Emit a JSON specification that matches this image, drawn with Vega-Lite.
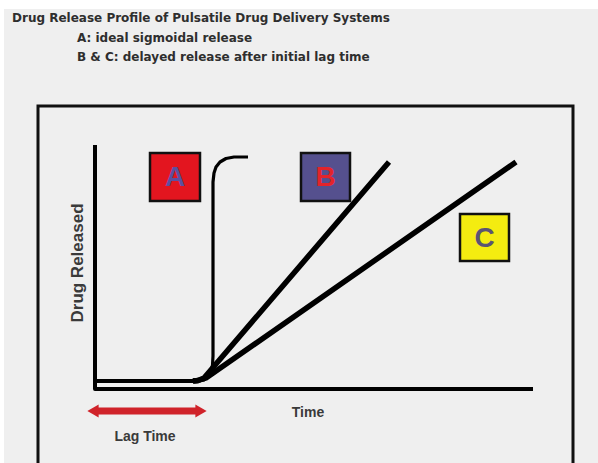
{
  "$schema": "https://vega.github.io/schema/vega-lite/v6.json",
  "width": 598,
  "height": 463,
  "autosize": {"type": "fit", "contains": "padding"},
  "padding": 0,
  "background": "#ffffff",
  "config": {"view": {"stroke": null, "fill": null}},
  "datasets": {
    "bg": [{"x": -91, "x2": 503, "y": 380, "y2": -74}],
    "frame": [
      {"i": 0, "t": -57, "r": -80},
      {"i": 1, "t": -57, "r": 283},
      {"i": 2, "t": 478, "r": 283},
      {"i": 3, "t": 478, "r": -80}
    ],
    "axes": [
      {"i": 0, "t": 0, "r": 244},
      {"i": 1, "t": 0, "r": 0},
      {"i": 2, "t": 438, "r": 0}
    ],
    "base": [
      {"i": 0, "t": 0, "r": 8},
      {"i": 1, "t": 104, "r": 8}
    ],
    "curveA": [
      {"i": 0, "t": 0, "r": 8},
      {"i": 1, "t": 103, "r": 8},
      {"i": 2, "t": 109, "r": 9},
      {"i": 3, "t": 113, "r": 12},
      {"i": 4, "t": 116, "r": 17},
      {"i": 5, "t": 117.5, "r": 24},
      {"i": 6, "t": 118, "r": 33},
      {"i": 7, "t": 118, "r": 207},
      {"i": 8, "t": 119, "r": 216},
      {"i": 9, "t": 121, "r": 222},
      {"i": 10, "t": 125, "r": 227},
      {"i": 11, "t": 131, "r": 230.5},
      {"i": 12, "t": 139, "r": 232},
      {"i": 13, "t": 153, "r": 232}
    ],
    "linear": [
      {"s": "B", "i": 0, "t": 98, "r": 8},
      {"s": "B", "i": 1, "t": 103, "r": 8.5},
      {"s": "B", "i": 2, "t": 109, "r": 11},
      {"s": "B", "i": 3, "t": 294, "r": 227},
      {"s": "C", "i": 0, "t": 98, "r": 8},
      {"s": "C", "i": 1, "t": 103, "r": 8.5},
      {"s": "C", "i": 2, "t": 111, "r": 11},
      {"s": "C", "i": 3, "t": 421, "r": 227}
    ],
    "boxes": [
      {"label": "A", "x": 55, "x2": 105, "y": 188, "y2": 236, "cx": 80, "cy": 212},
      {"label": "B", "x": 206, "x2": 255, "y": 188, "y2": 236, "cx": 230.5, "cy": 212},
      {"label": "C", "x": 365, "x2": 414, "y": 128, "y2": 175, "cx": 389.5, "cy": 151.5}
    ],
    "title": [
      {"text": "Drug Release Profile of Pulsatile Drug Delivery Systems", "t": -83, "r": 371},
      {"text": "A: ideal sigmoidal release", "t": -18, "r": 351},
      {"text": "B & C: delayed release after initial lag time", "t": -18, "r": 332}
    ],
    "labels": [
      {"text": "Time", "t": 213, "r": -24},
      {"text": "Lag Time", "t": 50, "r": -48}
    ],
    "ylab": [{"text": "Drug Released", "t": -17, "r": 126}],
    "arrow": [
      {"i": 0, "t": 2, "r": -22},
      {"i": 1, "t": 102, "r": -22}
    ],
    "heads": [
      {"dir": "left", "t": -2, "r": -22},
      {"dir": "right", "t": 106, "r": -22}
    ]
  },
  "layer": [
    {
      "data": {"name": "bg"},
      "mark": {"type": "rect", "fill": "#efefef", "stroke": null},
      "encoding": {
        "x": {"field": "x", "type": "quantitative", "scale": {"domain": [-95, 503], "nice": false, "zero": false}, "axis": null},
        "x2": {"field": "x2"},
        "y": {"field": "y", "type": "quantitative", "scale": {"domain": [-74, 389], "nice": false, "zero": false}, "axis": null},
        "y2": {"field": "y2"}
      }
    },
    {
      "data": {"name": "frame"},
      "mark": {"type": "line", "color": "#111111", "strokeWidth": 3, "clip": true},
      "encoding": {
        "x": {"field": "t", "type": "quantitative"},
        "y": {"field": "r", "type": "quantitative"},
        "order": {"field": "i"}
      }
    },
    {
      "data": {"name": "axes"},
      "mark": {"type": "line", "color": "#000000", "strokeWidth": 4, "strokeJoin": "round"},
      "encoding": {
        "x": {"field": "t", "type": "quantitative"},
        "y": {"field": "r", "type": "quantitative"},
        "order": {"field": "i"}
      }
    },
    {
      "data": {"name": "base"},
      "mark": {"type": "line", "color": "#000000", "strokeWidth": 4},
      "encoding": {
        "x": {"field": "t", "type": "quantitative"},
        "y": {"field": "r", "type": "quantitative"},
        "order": {"field": "i"}
      }
    },
    {
      "data": {"name": "linear"},
      "mark": {"type": "line", "color": "#000000", "strokeWidth": 5.5, "strokeJoin": "round"},
      "encoding": {
        "x": {"field": "t", "type": "quantitative"},
        "y": {"field": "r", "type": "quantitative"},
        "detail": {"field": "s"},
        "order": {"field": "i"}
      }
    },
    {
      "data": {"name": "curveA"},
      "mark": {"type": "line", "color": "#000000", "strokeWidth": 3.2, "strokeJoin": "round"},
      "encoding": {
        "x": {"field": "t", "type": "quantitative"},
        "y": {"field": "r", "type": "quantitative"},
        "order": {"field": "i"}
      }
    },
    {
      "data": {"name": "boxes"},
      "mark": {"type": "rect", "stroke": "#111111", "strokeWidth": 2.5},
      "encoding": {
        "x": {"field": "x", "type": "quantitative"},
        "x2": {"field": "x2"},
        "y": {"field": "y", "type": "quantitative"},
        "y2": {"field": "y2"},
        "fill": {"field": "label", "type": "nominal", "scale": {"domain": ["A", "B", "C"], "range": ["#e3151f", "#55508e", "#f4ec10"]}, "legend": null}
      }
    },
    {
      "data": {"name": "boxes"},
      "mark": {"type": "text", "font": "Liberation Sans", "fontWeight": "bold", "fontSize": 28, "align": "center", "baseline": "middle", "dy": 1},
      "encoding": {
        "x": {"field": "cx", "type": "quantitative"},
        "y": {"field": "cy", "type": "quantitative"},
        "text": {"field": "label"},
        "color": {"field": "label", "type": "nominal", "scale": {"domain": ["A", "B", "C"], "range": ["#5d509f", "#e3242b", "#5b5473"]}, "legend": null}
      }
    },
    {
      "data": {"name": "title"},
      "mark": {"type": "text", "font": "DejaVu Sans", "fontWeight": "bold", "fontSize": 12, "align": "left", "baseline": "middle", "color": "#2e2e2e"},
      "encoding": {
        "x": {"field": "t", "type": "quantitative"},
        "y": {"field": "r", "type": "quantitative"},
        "text": {"field": "text"}
      }
    },
    {
      "data": {"name": "labels"},
      "mark": {"type": "text", "font": "Liberation Sans", "fontWeight": "bold", "fontSize": 14, "align": "center", "baseline": "middle", "color": "#3a3a3a"},
      "encoding": {
        "x": {"field": "t", "type": "quantitative"},
        "y": {"field": "r", "type": "quantitative"},
        "text": {"field": "text"}
      }
    },
    {
      "data": {"name": "ylab"},
      "mark": {"type": "text", "font": "Liberation Sans", "fontWeight": "bold", "fontSize": 17, "align": "center", "baseline": "middle", "angle": 270, "color": "#3a3a3a"},
      "encoding": {
        "x": {"field": "t", "type": "quantitative"},
        "y": {"field": "r", "type": "quantitative"},
        "text": {"field": "text"}
      }
    },
    {
      "data": {"name": "arrow"},
      "mark": {"type": "line", "color": "#d0232a", "strokeWidth": 7},
      "encoding": {
        "x": {"field": "t", "type": "quantitative"},
        "y": {"field": "r", "type": "quantitative"},
        "order": {"field": "i"}
      }
    },
    {
      "data": {"name": "heads"},
      "mark": {"type": "point", "filled": true, "color": "#d0232a", "opacity": 1, "size": 170},
      "encoding": {
        "x": {"field": "t", "type": "quantitative"},
        "y": {"field": "r", "type": "quantitative"},
        "shape": {"field": "dir", "type": "nominal", "scale": {"domain": ["left", "right"], "range": ["triangle-left", "triangle-right"]}, "legend": null}
      }
    }
  ]
}
